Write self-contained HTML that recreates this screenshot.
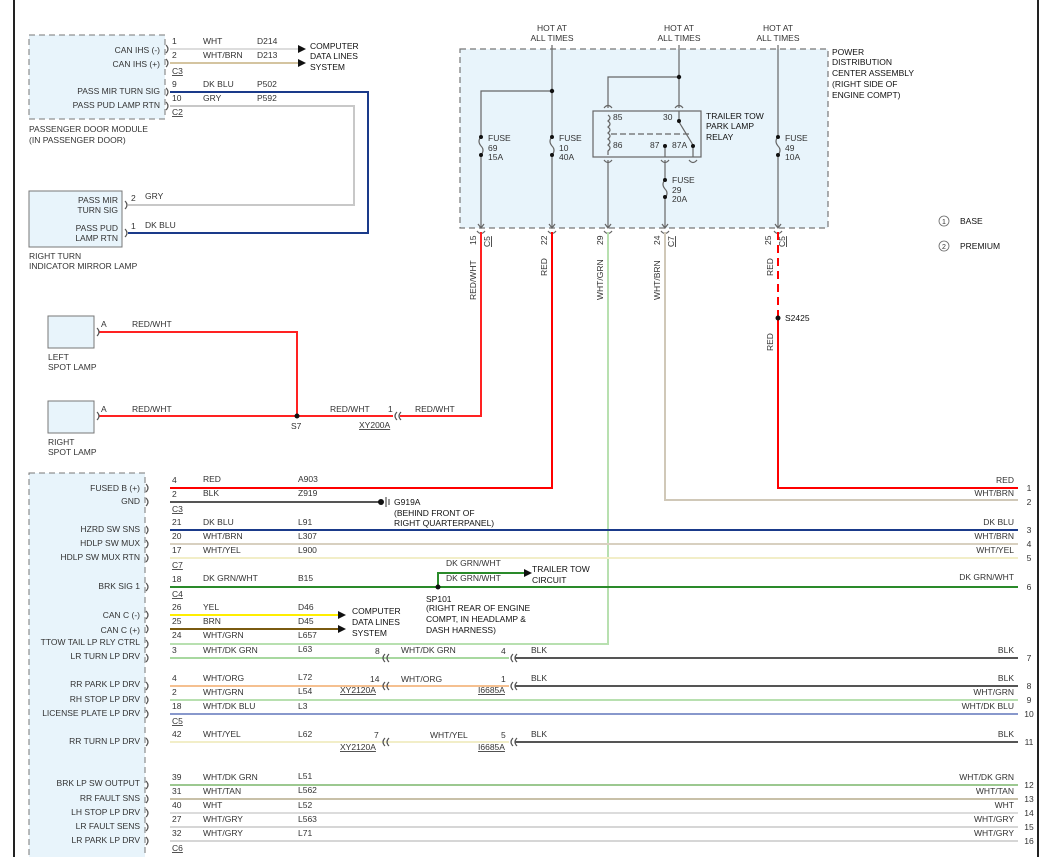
<!DOCTYPE html>
<html><head><meta charset="utf-8"><style>
html,body{margin:0;padding:0;background:#fff;}
svg{display:block;font-family:"Liberation Sans",sans-serif;font-size:8.5px;fill:#333;}
.w{fill:none;stroke-width:2;}
.b{fill:none;stroke:#555;stroke-width:1.2;}
.e{text-anchor:end;}
.m{text-anchor:middle;}
.u{text-decoration:underline;}
</style></head><body>
<svg width="1046" height="857" viewBox="0 0 1046 857" xmlns="http://www.w3.org/2000/svg">
<line x1="14" y1="0" x2="14" y2="857" stroke="#222" stroke-width="2"/>
<line x1="1038" y1="0" x2="1038" y2="857" stroke="#222" stroke-width="2"/>

<!-- Passenger door module -->
<rect x="29" y="35" width="136" height="84" fill="#e8f4fb" stroke="#777" stroke-dasharray="6,4"/>
<text x="160" y="53" class="e">CAN IHS (-)</text>
<text x="160" y="67" class="e">CAN IHS (+)</text>
<text x="160" y="94" class="e">PASS MIR TURN SIG</text>
<text x="160" y="108" class="e">PASS PUD LAMP RTN</text>
<text x="29" y="132">PASSENGER DOOR MODULE</text>
<text x="29" y="143">(IN PASSENGER DOOR)</text>
<text x="172" y="44">1</text><text x="172" y="58">2</text><text x="172" y="74" class="u">C3</text>
<text x="172" y="87">9</text><text x="172" y="101">10</text><text x="172" y="115" class="u">C2</text>
<text x="203" y="44">WHT</text><text x="257" y="44">D214</text>
<text x="203" y="58">WHT/BRN</text><text x="257" y="58">D213</text>
<text x="203" y="87">DK BLU</text><text x="257" y="87">P502</text>
<text x="203" y="101">GRY</text><text x="257" y="101">P592</text>
<polyline class="w" stroke="#ddd" points="170,49 300,49"/>
<polyline class="w" stroke="#d4c4a0" points="170,63 300,63"/>
<polygon points="298,45 306,49 298,53" fill="#111"/>
<polygon points="298,59 306,63 298,67" fill="#111"/>
<text x="310" y="49" fill="#111">COMPUTER</text><text x="310" y="59" fill="#111">DATA LINES</text><text x="310" y="70" fill="#111">SYSTEM</text>
<polyline class="w" stroke="#1a3a8a" points="170,92 368,92 368,233 128,233"/>
<polyline class="w" stroke="#c8c8c8" points="170,106 354,106 354,205 128,205"/>
<path class="b" d="M166,45 q4,4 0,8 M166,59 q4,4 0,8 M166,88 q4,4 0,8 M166,102 q4,4 0,8 M125,201 q4,4 0,8 M125,229 q4,4 0,8"/>

<!-- Mirror lamp -->
<rect x="29" y="191" width="93" height="56" fill="#e8f4fb" stroke="#777"/>
<text x="118" y="203" class="e">PASS MIR</text><text x="118" y="213" class="e">TURN SIG</text>
<text x="118" y="231" class="e">PASS PUD</text><text x="118" y="241" class="e">LAMP RTN</text>
<text x="131" y="201">2</text><text x="145" y="199">GRY</text>
<text x="131" y="229">1</text><text x="145" y="228">DK BLU</text>
<text x="29" y="259">RIGHT TURN</text><text x="29" y="269">INDICATOR MIRROR LAMP</text>

<!-- PDC -->
<rect x="460" y="49" width="368" height="179" fill="#e8f4fb" stroke="#777" stroke-dasharray="6,4" stroke-width="1.2"/>
<text x="552" y="31" class="m">HOT AT</text><text x="552" y="41" class="m">ALL TIMES</text>
<text x="679" y="31" class="m">HOT AT</text><text x="679" y="41" class="m">ALL TIMES</text>
<text x="778" y="31" class="m">HOT AT</text><text x="778" y="41" class="m">ALL TIMES</text>
<text x="832" y="55" fill="#111">POWER</text><text x="832" y="65" fill="#111">DISTRIBUTION</text>
<text x="832" y="76" fill="#111">CENTER ASSEMBLY</text><text x="832" y="87" fill="#111">(RIGHT SIDE OF</text>
<text x="832" y="98" fill="#111">ENGINE COMPT)</text>
<g stroke="#666" stroke-width="1.2" fill="none">
<polyline points="552,45 552,137"/><polyline points="552,155 552,228"/>
<polyline points="552,91 481,91 481,137"/><polyline points="481,155 481,228"/>
<polyline points="679,45 679,108"/>
<polyline points="679,77 608,77 608,108"/>
<polyline points="778,45 778,137"/><polyline points="778,155 778,228"/>
<path d="M481,137 q-4,4 0,9 q4,4 0,9 M552,137 q-4,4 0,9 q4,4 0,9 M778,137 q-4,4 0,9 q4,4 0,9 M665,180 q-4,4 0,9 q4,4 0,9"/>
<rect x="593" y="111" width="108" height="46"/>
<path d="M608,115 q4,3 0,6 q4,3 0,6 q4,3 0,6 q4,3 0,6 q4,3 0,6 q4,3 0,6 L608,155"/>
<line x1="611" y1="134" x2="690" y2="134" stroke-dasharray="6,3"/>
<line x1="679" y1="122" x2="693" y2="145"/>
<polyline points="679,111 679,122"/><polyline points="665,146 665,157"/><polyline points="693,146 693,157"/>
<path d="M604,108 q4,-5 8,0 M675,108 q4,-5 8,0 M604,160 q4,5 8,0 M661,160 q4,5 8,0 M689,160 q4,5 8,0"/>
<polyline points="608,160 608,228"/><polyline points="665,160 665,180"/><polyline points="665,198 665,228"/>
<path d="M477,231 q4,5 8,0 M548,231 q4,5 8,0 M604,231 q4,5 8,0 M661,231 q4,5 8,0 M774,231 q4,5 8,0"/>
<path d="M478,224 l3,4 l3,-4 M549,224 l3,4 l3,-4 M605,224 l3,4 l3,-4 M662,224 l3,4 l3,-4 M775,224 l3,4 l3,-4"/>
</g>
<g fill="#111">
<circle cx="552" cy="91" r="2.2"/><circle cx="679" cy="77" r="2.2"/>
<circle cx="481" cy="137" r="2"/><circle cx="481" cy="155" r="2"/>
<circle cx="552" cy="137" r="2"/><circle cx="552" cy="155" r="2"/>
<circle cx="778" cy="137" r="2"/><circle cx="778" cy="155" r="2"/>
<circle cx="665" cy="180" r="2"/><circle cx="665" cy="197" r="2"/>
<circle cx="679" cy="121" r="2"/><circle cx="693" cy="146" r="2"/><circle cx="665" cy="146" r="2"/>
</g>
<text x="488" y="141">FUSE</text><text x="488" y="151">69</text><text x="488" y="160">15A</text>
<text x="559" y="141">FUSE</text><text x="559" y="151">10</text><text x="559" y="160">40A</text>
<text x="785" y="141">FUSE</text><text x="785" y="151">49</text><text x="785" y="160">10A</text>
<text x="672" y="183">FUSE</text><text x="672" y="193">29</text><text x="672" y="202">20A</text>
<text x="613" y="120">85</text><text x="663" y="120">30</text>
<text x="613" y="148">86</text><text x="650" y="148">87</text><text x="672" y="148">87A</text>
<text x="706" y="119" fill="#111">TRAILER TOW</text><text x="706" y="129" fill="#111">PARK LAMP</text><text x="706" y="140" fill="#111">RELAY</text>
<g>
<text transform="translate(476,245) rotate(-90)">15</text><text transform="translate(490,247) rotate(-90)" class="u">C5</text>
<text transform="translate(547,245) rotate(-90)">22</text>
<text transform="translate(603,245) rotate(-90)">29</text>
<text transform="translate(660,245) rotate(-90)">24</text><text transform="translate(674,247) rotate(-90)" class="u">C7</text>
<text transform="translate(771,245) rotate(-90)">25</text><text transform="translate(785,247) rotate(-90)" class="u">C5</text>
<text transform="translate(476,300) rotate(-90)">RED/WHT</text>
<text transform="translate(547,276) rotate(-90)">RED</text>
<text transform="translate(603,300) rotate(-90)">WHT/GRN</text>
<text transform="translate(660,300) rotate(-90)">WHT/BRN</text>
<text transform="translate(773,276) rotate(-90)">RED</text>
<text transform="translate(773,351) rotate(-90)">RED</text>
</g>

<!-- legend -->
<circle cx="944" cy="221" r="5" fill="none" stroke="#666" stroke-width="0.8"/><text x="944" y="224" class="m" font-size="7">1</text>
<circle cx="944" cy="246" r="5" fill="none" stroke="#666" stroke-width="0.8"/><text x="944" y="249" class="m" font-size="7">2</text>
<text x="960" y="224" fill="#111">BASE</text><text x="960" y="249" fill="#111">PREMIUM</text>

<!-- spot lamps -->
<rect x="48" y="316" width="46" height="32" fill="#e8f4fb" stroke="#777"/>
<rect x="48" y="401" width="46" height="32" fill="#e8f4fb" stroke="#777"/>
<text x="48" y="360">LEFT</text><text x="48" y="370">SPOT LAMP</text>
<text x="48" y="445">RIGHT</text><text x="48" y="455">SPOT LAMP</text>
<text x="101" y="327">A</text><text x="132" y="327">RED/WHT</text>
<text x="101" y="412">A</text><text x="132" y="412">RED/WHT</text>
<polyline class="w" stroke="#f22" points="99,332 297,332 297,416"/>
<polyline class="w" stroke="#f22" points="99,416 393,416"/>
<polyline class="w" stroke="#f22" points="400,416 481,416 481,232"/>
<path class="b" d="M97,328 q4,4 0,8 M97,412 q4,4 0,8 M397,412 q-4,4 0,8 M401,412 q-4,4 0,8"/>
<circle cx="297" cy="416" r="2.5" fill="#111"/>
<text x="291" y="429">S7</text>
<text x="330" y="412">RED/WHT</text><text x="388" y="412">1</text><text x="415" y="412">RED/WHT</text>
<text x="359" y="428" class="u">XY200A</text>

<!-- PDC outputs -->
<polyline class="w" stroke="#f00" points="552,232 552,488 170,488"/>
<polyline class="w" stroke="#b8e0b0" points="608,232 608,644 170,644"/>
<polyline class="w" stroke="#d0c8b8" points="665,232 665,500 1018,500"/>
<line x1="778" y1="232" x2="778" y2="318" stroke="#f00" stroke-width="2" stroke-dasharray="8,5"/>
<polyline class="w" stroke="#f00" points="778,318 778,488 1018,488"/>
<circle cx="778" cy="318" r="2.5" fill="#111"/>
<text x="785" y="321" fill="#111">S2425</text>

<!-- bottom module -->
<rect x="29" y="473" width="116" height="400" fill="#e8f4fb" stroke="#777" stroke-dasharray="6,4"/>
<text x="140" y="491" class="e">FUSED B (+)</text>
<text x="140" y="504" class="e">GND</text>
<text x="140" y="532" class="e">HZRD SW SNS</text>
<text x="140" y="546" class="e">HDLP SW MUX</text>
<text x="140" y="560" class="e">HDLP SW MUX RTN</text>
<text x="140" y="589" class="e">BRK SIG 1</text>
<text x="140" y="618" class="e">CAN C (-)</text>
<text x="140" y="633" class="e">CAN C (+)</text>
<text x="140" y="645" class="e">TTOW TAIL LP RLY CTRL</text>
<text x="140" y="659" class="e">LR TURN LP DRV</text>
<text x="140" y="687" class="e">RR PARK LP DRV</text>
<text x="140" y="702" class="e">RH STOP LP DRV</text>
<text x="140" y="716" class="e">LICENSE PLATE LP DRV</text>
<text x="140" y="744" class="e">RR TURN LP DRV</text>
<text x="140" y="786" class="e">BRK LP SW OUTPUT</text>
<text x="140" y="801" class="e">RR FAULT SNS</text>
<text x="140" y="815" class="e">LH STOP LP DRV</text>
<text x="140" y="829" class="e">LR FAULT SENS</text>
<text x="140" y="843" class="e">LR PARK LP DRV</text>

<!-- pins & labels -->
<text x="172" y="483">4</text><text x="203" y="482">RED</text><text x="298" y="482">A903</text>
<text x="172" y="497">2</text><text x="203" y="496">BLK</text><text x="298" y="496">Z919</text>
<text x="172" y="512" class="u">C3</text>
<text x="172" y="525">21</text><text x="203" y="525">DK BLU</text><text x="298" y="525">L91</text>
<text x="172" y="539">20</text><text x="203" y="539">WHT/BRN</text><text x="298" y="539">L307</text>
<text x="172" y="553">17</text><text x="203" y="553">WHT/YEL</text><text x="298" y="553">L900</text>
<text x="172" y="568" class="u">C7</text>
<text x="172" y="582">18</text><text x="203" y="581">DK GRN/WHT</text><text x="298" y="581">B15</text>
<text x="172" y="597" class="u">C4</text>
<text x="172" y="610">26</text><text x="203" y="610">YEL</text><text x="298" y="610">D46</text>
<text x="172" y="624">25</text><text x="203" y="624">BRN</text><text x="298" y="624">D45</text>
<text x="172" y="638">24</text><text x="203" y="638">WHT/GRN</text><text x="298" y="638">L657</text>
<text x="172" y="653">3</text><text x="203" y="653">WHT/DK GRN</text><text x="298" y="652">L63</text>
<text x="172" y="681">4</text><text x="203" y="681">WHT/ORG</text><text x="298" y="680">L72</text>
<text x="172" y="695">2</text><text x="203" y="695">WHT/GRN</text><text x="298" y="694">L54</text>
<text x="172" y="709">18</text><text x="203" y="709">WHT/DK BLU</text><text x="298" y="709">L3</text>
<text x="172" y="724" class="u">C5</text>
<text x="172" y="737">42</text><text x="203" y="737">WHT/YEL</text><text x="298" y="737">L62</text>
<text x="172" y="780">39</text><text x="203" y="780">WHT/DK GRN</text><text x="298" y="779">L51</text>
<text x="172" y="794">31</text><text x="203" y="794">WHT/TAN</text><text x="298" y="793">L562</text>
<text x="172" y="808">40</text><text x="203" y="808">WHT</text><text x="298" y="808">L52</text>
<text x="172" y="822">27</text><text x="203" y="822">WHT/GRY</text><text x="298" y="822">L563</text>
<text x="172" y="836">32</text><text x="203" y="836">WHT/GRY</text><text x="298" y="836">L71</text>
<text x="172" y="851" class="u">C6</text>

<!-- wires bottom -->
<polyline class="w" stroke="#555" points="170,502 380,502"/>
<circle cx="381" cy="502" r="3" fill="#111"/>
<path d="M386,497 v10 M389,499 v6" stroke="#333" stroke-width="1"/>
<text x="394" y="505" fill="#111">G919A</text>
<text x="394" y="516" fill="#111">(BEHIND FRONT OF</text>
<text x="394" y="526" fill="#111">RIGHT QUARTERPANEL)</text>
<polyline class="w" stroke="#1a3a8a" points="170,530 1018,530"/>
<polyline class="w" stroke="#d8d0c0" points="170,544 1018,544"/>
<polyline class="w" stroke="#f2eec8" points="170,558 1018,558"/>
<polyline class="w" stroke="#2a8a2a" points="170,587 1018,587"/>
<polyline class="w" stroke="#2a8a2a" stroke-width="1.3" points="438,587 438,573 526,573"/>
<polygon points="524,569 532,573 524,577" fill="#111"/>
<circle cx="438" cy="587" r="2.5" fill="#111"/>
<text x="446" y="566">DK GRN/WHT</text><text x="446" y="581">DK GRN/WHT</text>
<text x="532" y="572" fill="#111">TRAILER TOW</text><text x="532" y="583" fill="#111">CIRCUIT</text>
<text x="426" y="602" fill="#111">SP101</text>
<text x="426" y="611" fill="#111">(RIGHT REAR OF ENGINE</text>
<text x="426" y="622" fill="#111">COMPT, IN HEADLAMP &amp;</text>
<text x="426" y="633" fill="#111">DASH HARNESS)</text>
<polyline class="w" stroke="#ffee00" points="170,615 340,615"/>
<polyline class="w" stroke="#7a5a10" points="170,629 340,629"/>
<polygon points="338,611 346,615 338,619" fill="#111"/>
<polygon points="338,625 346,629 338,633" fill="#111"/>
<text x="352" y="614" fill="#111">COMPUTER</text><text x="352" y="625" fill="#111">DATA LINES</text><text x="352" y="636" fill="#111">SYSTEM</text>

<polyline class="w" stroke="#a8d8a0" points="170,658 509,658"/>
<polyline class="w" stroke="#555" points="515,658 1018,658"/>
<polyline class="w" stroke="#f5c090" points="170,686 509,686"/>
<polyline class="w" stroke="#555" points="515,686 1018,686"/>
<polyline class="w" stroke="#b8e0b0" points="170,700 1018,700"/>
<polyline class="w" stroke="#8898cc" points="170,714 1018,714"/>
<polyline class="w" stroke="#f2eec8" points="170,742 509,742"/>
<polyline class="w" stroke="#555" points="515,742 1018,742"/>
<path class="b" d="M385,654 q-4,4 0,8 M389,654 q-4,4 0,8 M385,682 q-4,4 0,8 M389,682 q-4,4 0,8 M385,738 q-4,4 0,8 M389,738 q-4,4 0,8
 M513,654 q-4,4 0,8 M517,654 q-4,4 0,8 M513,682 q-4,4 0,8 M517,682 q-4,4 0,8 M513,738 q-4,4 0,8 M517,738 q-4,4 0,8"/>
<text x="375" y="654">8</text><text x="401" y="653">WHT/DK GRN</text><text x="501" y="654">4</text><text x="531" y="653">BLK</text>
<text x="370" y="682">14</text><text x="401" y="682">WHT/ORG</text><text x="501" y="682">1</text><text x="531" y="681">BLK</text>
<text x="340" y="693" class="u">XY2120A</text><text x="478" y="693" class="u">I6685A</text>
<text x="374" y="738">7</text><text x="430" y="738">WHT/YEL</text><text x="501" y="738">5</text><text x="531" y="737">BLK</text>
<text x="340" y="750" class="u">XY2120A</text><text x="478" y="750" class="u">I6685A</text>

<polyline class="w" stroke="#9cc890" points="170,785 1018,785"/>
<polyline class="w" stroke="#c8c0a8" points="170,799 1018,799"/>
<polyline class="w" stroke="#dcdcdc" points="170,813 1018,813"/>
<polyline class="w" stroke="#d6d6d6" points="170,827 1018,827"/>
<polyline class="w" stroke="#d6d6d6" points="170,841 1018,841"/>

<path class="b" d="M146,484 q4,4 0,8 M146,498 q4,4 0,8 M146,526 q4,4 0,8 M146,540 q4,4 0,8 M146,554 q4,4 0,8 M146,583 q4,4 0,8 M146,611 q4,4 0,8 M146,625 q4,4 0,8 M146,640 q4,4 0,8 M146,654 q4,4 0,8 M146,682 q4,4 0,8 M146,696 q4,4 0,8 M146,710 q4,4 0,8 M146,738 q4,4 0,8 M146,781 q4,4 0,8 M146,795 q4,4 0,8 M146,809 q4,4 0,8 M146,823 q4,4 0,8 M146,837 q4,4 0,8"/>

<!-- right labels -->
<text x="1014" y="483" class="e">RED</text><text x="1029" y="491" class="m">1</text>
<text x="1014" y="496" class="e">WHT/BRN</text><text x="1029" y="505" class="m">2</text>
<text x="1014" y="525" class="e">DK BLU</text><text x="1029" y="533" class="m">3</text>
<text x="1014" y="539" class="e">WHT/BRN</text><text x="1029" y="547" class="m">4</text>
<text x="1014" y="553" class="e">WHT/YEL</text><text x="1029" y="561" class="m">5</text>
<text x="1014" y="580" class="e">DK GRN/WHT</text><text x="1029" y="590" class="m">6</text>
<text x="1014" y="653" class="e">BLK</text><text x="1029" y="661" class="m">7</text>
<text x="1014" y="681" class="e">BLK</text><text x="1029" y="689" class="m">8</text>
<text x="1014" y="695" class="e">WHT/GRN</text><text x="1029" y="703" class="m">9</text>
<text x="1014" y="709" class="e">WHT/DK BLU</text><text x="1029" y="717" class="m">10</text>
<text x="1014" y="737" class="e">BLK</text><text x="1029" y="745" class="m">11</text>
<text x="1014" y="780" class="e">WHT/DK GRN</text><text x="1029" y="788" class="m">12</text>
<text x="1014" y="794" class="e">WHT/TAN</text><text x="1029" y="802" class="m">13</text>
<text x="1014" y="808" class="e">WHT</text><text x="1029" y="816" class="m">14</text>
<text x="1014" y="822" class="e">WHT/GRY</text><text x="1029" y="830" class="m">15</text>
<text x="1014" y="836" class="e">WHT/GRY</text><text x="1029" y="844" class="m">16</text>
</svg>
</body></html>
